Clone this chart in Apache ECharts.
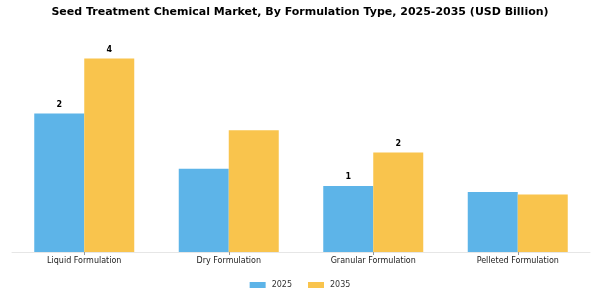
<!DOCTYPE html>
<html>
<head>
<meta charset="utf-8">
<script src="https://cdn.jsdelivr.net/npm/echarts@6/dist/echarts.min.js"></script>
<style>
  html, body { margin: 0; padding: 0; background: #fff; }
  #chart { width: 600px; height: 300px; }
</style>
</head>
<body>
<div id="chart"></div>
<script>
// 分类与数值
var categories = ['Liquid Formulation', 'Dry Formulation', 'Granular Formulation', 'Pelleted Formulation'];
var values2025 = [2.91, 1.75, 1.39, 1.26];
var values2035 = [4.07, 2.56, 2.09, 1.21];
// 柱顶标签（原图只标了部分柱子）
var labels2025 = ['2', '', '1', ''];
var labels2035 = ['4', '', '2', ''];

var FONT = "'DejaVu Sans', sans-serif";

var chart = echarts.init(document.getElementById('chart'));

function labelOf(list) {
  return {
    show: true,
    position: 'top',
    distance: 5,
    fontFamily: FONT,
    fontWeight: 'bold',
    fontSize: 8,
    color: '#000',
    formatter: function (p) { return list[p.dataIndex]; }
  };
}

var option = {
  animation: false,
  title: {
    text: 'Seed Treatment Chemical Market, By Formulation Type, 2025-2035 (USD Billion)',
    left: 'center',
    top: 2,
    textStyle: { fontFamily: FONT, fontWeight: 'bold', fontSize: 11, color: '#000' }
  },
  legend: {
    top: 276,
    left: 'center',
    itemWidth: 16,
    itemHeight: 6,
    itemGap: 16,
    icon: 'rect',
    textStyle: { fontFamily: FONT, fontSize: 8, color: '#333', padding: [0, 0, 0, 1] },
    data: ['2025', '2035']
  },
  grid: { left: 12, right: 10, top: 38, bottom: 48 },
  xAxis: {
    type: 'category',
    data: categories,
    axisLine: { lineStyle: { color: '#e6e6e6', width: 1 } },
    axisTick: { show: true, alignWithLabel: true, length: 3, lineStyle: { color: '#999' } },
    axisLabel: { fontFamily: FONT, fontSize: 8, color: '#222', margin: 5 }
  },
  yAxis: {
    type: 'value',
    min: 0,
    max: 4.5,
    show: false,
    splitLine: { show: false }
  },
  series: [
    {
      name: '2025',
      type: 'bar',
      data: values2025,
      barWidth: 50,
      barGap: '0%',
      itemStyle: { color: '#5db4e8' },
      label: labelOf(labels2025)
    },
    {
      name: '2035',
      type: 'bar',
      data: values2035,
      barWidth: 50,
      itemStyle: { color: '#f9c44d' },
      label: labelOf(labels2035)
    }
  ]
};

chart.setOption(option);
</script>
</body>
</html>
